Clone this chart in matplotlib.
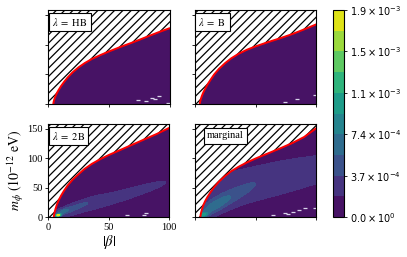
import numpy as np
import matplotlib
matplotlib.use("Agg")
import matplotlib.pyplot as plt

plt.rcParams['font.family'] = 'serif'
plt.rcParams['font.serif'] = ['Liberation Serif', 'DejaVu Serif']
plt.rcParams['mathtext.fontset'] = 'stix'
plt.rcParams['hatch.linewidth'] = 0.9

# edge of the allowed region (red line), per panel
edge_beta_hb = [4.1, 4.4, 5.0, 5.8, 7.0, 8.5, 10.5, 13, 16, 20, 25, 30, 36, 43, 50, 60, 70, 80, 90, 100]
edge_m_hb = [0, 4, 8.5, 13, 18.5, 24, 30.5, 37.5, 45, 53.5, 62, 69, 76, 82.5, 88.5, 96.5, 104, 112, 120, 127.5]
edge_beta_b = [4.1, 4.4, 5.0, 5.8, 7.0, 8.5, 10.5, 13, 16, 20, 25, 30, 36, 43, 50, 60, 70, 80, 90, 100]
edge_m_b = [0, 4, 8.5, 13.5, 19.5, 25.5, 33, 41, 50, 59.5, 69, 77, 84.5, 91.5, 97, 104, 110.5, 117.5, 125.5, 134]
edge_beta_2b = [4.5, 4.8, 5.3, 6.0, 7.0, 8.5, 10.5, 13, 16, 20, 25, 30, 36, 43, 50, 60, 70, 80, 90, 100]
edge_m_2b = [0, 4.5, 9, 14.5, 21, 28.5, 36.5, 45, 54, 63.5, 73, 82, 90.5, 98.5, 105.5, 114.5, 123.5, 132.5, 141.5, 151.5]
edge_beta_marg = [4.6, 4.9, 5.4, 6.1, 7.1, 8.5, 10.5, 13, 16, 20, 25, 30, 36, 43, 50, 60, 70, 80, 90, 100]
edge_m_marg = [0, 4.5, 9, 14.5, 20.5, 27, 34.5, 42.5, 51, 60.5, 70, 78, 85.5, 93, 99.5, 108, 116.5, 125.5, 136, 151]

# density blobs: beta, m, sigma_along, sigma_across, angle (deg), peak
blobs_hb = [(60, 20, 30, 10, 30, 0.5e-4)]
blobs_b = [(60, 20, 30, 10, 30, 0.6e-4)]
blobs_2b = [(53.5, 32, 53, 8, 32.8, 3.0e-4),
            (20.6, 17, 21, 4.5, 42.7, 2.1e-4),
            (12.5, 10, 5, 2.2, 45, 3.0e-4),
            (8.2, 3.5, 1.8, 1.2, 50, 1.45e-3)]
blobs_marg = [(30, 47.5, 150, 31, 26.6, 2.7e-4),
              (25, 28, 30, 6, 51, 2.4e-4),
              (15, 18, 16, 4.5, 58, 2.6e-4),
              (7, 4, 3.5, 2, 55, 6.0e-4)]

# small empty specks near the bottom right
speck_beta_hb = [74, 81, 85.4, 88, 91, 99]
speck_m_hb = [7, 6, 10, 8.4, 14.6, 3]
speck_beta_b = [74, 84, 98.6]
speck_m_b = [4.5, 8.4, 15.7]
speck_beta_2b = [64.7, 79, 80.7]
speck_m_2b = [3.9, 3.9, 6.7]
speck_beta_marg = [64.7, 74.4, 77, 81, 85.4, 91, 98.6]
speck_m_marg = [3.9, 6.7, 5.6, 9.5, 12.3, 15, 15]

labels = [r'$\lambda\ =\ \mathrm{HB}$', r'$\lambda\ =\ \mathrm{B}$', r'$\lambda\ =\ 2\mathrm{B}$', 'marginal']
levels = np.linspace(0, 1.86e-3, 11)

beta = np.linspace(0, 100, 401)
mphi = np.linspace(0, 160, 401)
B, M = np.meshgrid(beta, mphi)


def density(blobs):
    z = np.full_like(B, 1e-7)
    for bc, mc, sa, sc, ang, amp in blobs:
        t = np.deg2rad(ang)
        u = (B - bc) * np.cos(t) + (M - mc) * np.sin(t)
        v = -(B - bc) * np.sin(t) + (M - mc) * np.cos(t)
        z += amp * np.exp(-0.5 * ((u / sa) ** 2 + (v / sc) ** 2))
    return z


fig = plt.figure(figsize=(4.07, 2.57), dpi=100)
W, H = 407, 257
boxes = [(48.3, 10, 169.5, 104.3), (194.7, 10, 316.3, 104.3),
         (48.3, 124, 169.3, 217.3), (194.7, 124, 316.3, 217.3)]
edges = [(edge_beta_hb, edge_m_hb), (edge_beta_b, edge_m_b),
         (edge_beta_2b, edge_m_2b), (edge_beta_marg, edge_m_marg)]
specks = [(speck_beta_hb, speck_m_hb), (speck_beta_b, speck_m_b),
          (speck_beta_2b, speck_m_2b), (speck_beta_marg, speck_m_marg)]
blobs_all = [blobs_hb, blobs_b, blobs_2b, blobs_marg]
label_pos = [(0.03, 0.935), (0.03, 0.935), (0.03, 0.935), (0.1, 0.92)]

ymax = 158
cs_main = None
for i in range(4):
    l, t, r, b = boxes[i]
    ax = fig.add_axes([l / W, (H - b) / H, (r - l) / W, (b - t) / H])
    eb, em = np.array(edges[i][0]), np.array(edges[i][1])
    z = density(blobs_all[i])
    top = np.interp(B, eb, em, left=-1)
    z = np.ma.masked_where(M > top, z)
    cs = ax.contourf(B, M, z, levels=levels, cmap='viridis')
    if i == 2:
        cs_main = cs
    ax.plot(specks[i][0], specks[i][1], ls='none', marker='_', ms=3, mew=0.9,
            color='#d8d4ea')
    ax.fill_between(np.r_[0, eb, 101], np.r_[0, em, em[-1] + 5], ymax + 5,
                    facecolor='white', edgecolor='black', hatch='////', lw=0)
    ax.plot(eb, em, color='red', lw=1.4, solid_capstyle='round')
    ax.set_xlim(0, 100)
    ax.set_ylim(0, ymax)
    ax.set_xticks([0, 50, 100])
    ax.set_yticks([0, 50, 100, 150])
    ax.tick_params(direction='out', length=2.5, width=0.6, labelsize=7.5, pad=1.5)
    for s in ax.spines.values():
        s.set_linewidth(0.8)
    if i == 2:
        ax.set_xlabel(r'$|\beta|$', fontsize=10.5, labelpad=1)
        ax.set_ylabel(r'$m_\phi\ (10^{-12}\ \mathrm{eV})$', fontsize=10, labelpad=1)
    else:
        ax.set_xticklabels([])
        ax.set_yticklabels([])
    ax.text(label_pos[i][0], label_pos[i][1], labels[i], transform=ax.transAxes,
            fontsize=7.5, ha='left', va='top', zorder=5,
            bbox=dict(boxstyle='square,pad=0.3', fc='white', ec='black', lw=0.8))


def sci(v):
    if v == 0:
        return r'$0.0 \times 10^{0}$'
    e = int(np.floor(np.log10(v)))
    return r'$%.1f \times 10^{%d}$' % (v / 10 ** e, e)


cax = fig.add_axes([333.3 / W, (H - 217) / H, 10.7 / W, 207 / H])
cbar = fig.colorbar(cs_main, cax=cax, ticks=levels[::2])
cbar.ax.set_yticklabels([sci(v) for v in levels[::2]], fontsize=7,
                        family='DejaVu Sans', math_fontfamily='dejavusans')
cbar.ax.tick_params(length=2.5, width=0.6, pad=1.5)
cbar.outline.set_linewidth(0.8)

fig.savefig('out.png', dpi=100)
